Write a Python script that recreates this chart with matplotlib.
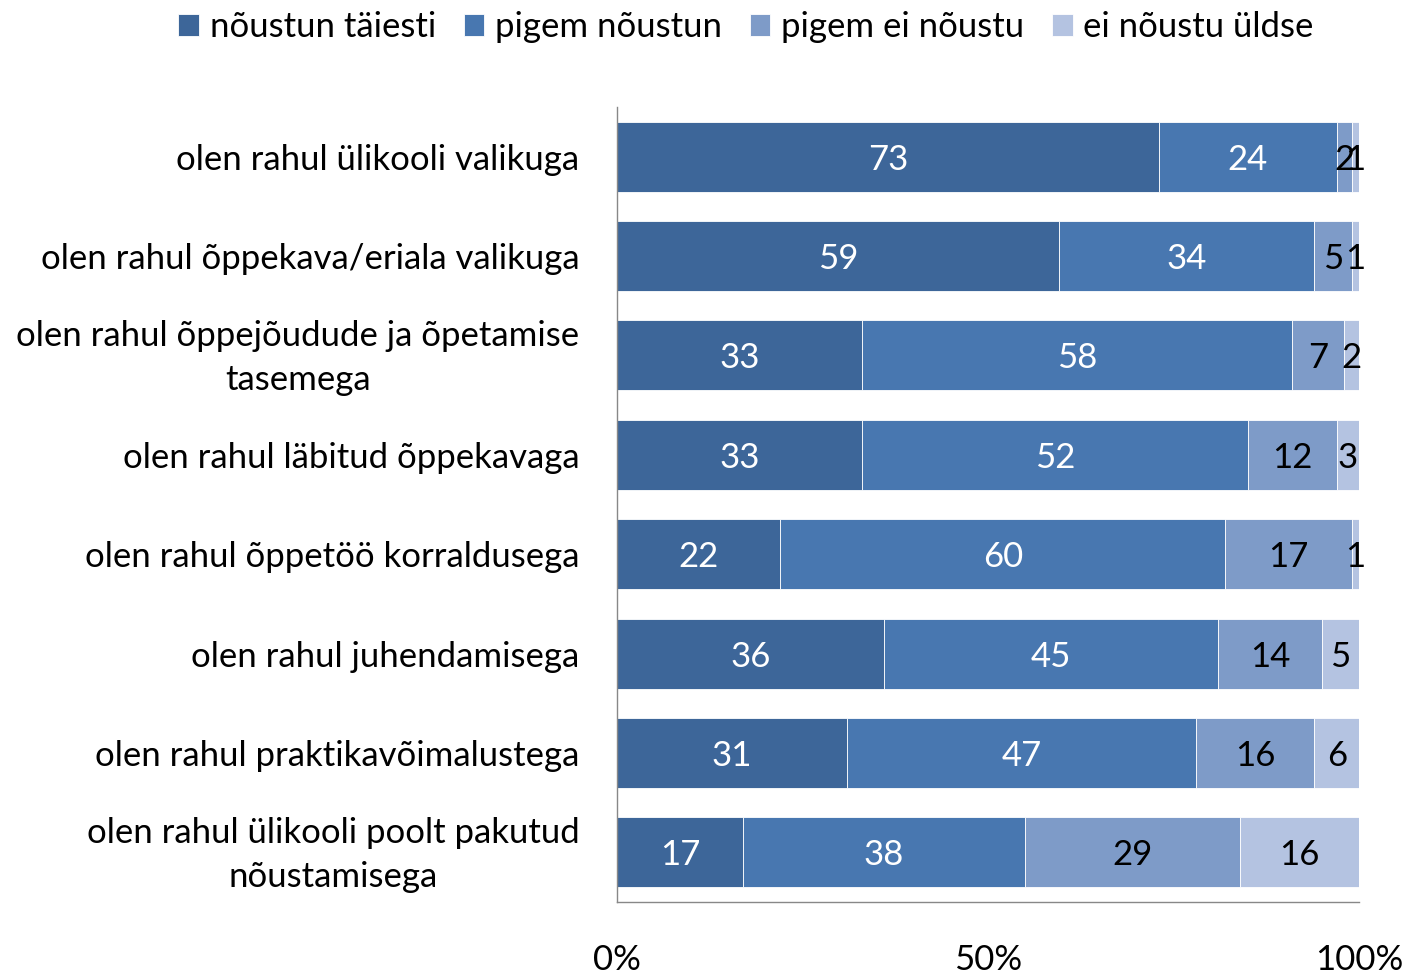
import matplotlib
matplotlib.use("Agg")
import matplotlib.pyplot as plt
import matplotlib.transforms as mtransforms
import numpy as np

categories = [
    "olen rahul ülikooli valikuga",
    "olen rahul õppekava/eriala valikuga",
    "olen rahul õppejõudude ja õpetamise\ntasemega",
    "olen rahul läbitud õppekavaga",
    "olen rahul õppetöö korraldusega",
    "olen rahul juhendamisega",
    "olen rahul praktikavõimalustega",
    "olen rahul ülikooli poolt pakutud\nnõustamisega",
]
series_names = ["nõustun täiesti", "pigem nõustun", "pigem ei nõustu", "ei nõustu üldse"]
noustun_taiesti = [73, 59, 33, 33, 22, 36, 31, 17]
pigem_noustun = [24, 34, 58, 52, 60, 45, 47, 38]
pigem_ei_noustu = [2, 5, 7, 12, 17, 14, 16, 29]
ei_noustu_uldse = [1, 1, 2, 3, 1, 5, 6, 16]
x_ticks = [0, 50, 100]
x_tick_labels = ["0%", "50%", "100%"]

colors = ["#3D6699", "#4877B0", "#7E9BC8", "#B4C3E1"]
text_colors = ["white", "white", "black", "black"]

plt.rcParams['font.family'] = ['Lato', 'DejaVu Sans']
FS = 25

data = np.array([noustun_taiesti, pigem_noustun, pigem_ei_noustu, ei_noustu_uldse], dtype=float)
totals = data.sum(axis=0)
pct = data / totals * 100

fig = plt.figure(figsize=(14.10, 9.74), dpi=100)
ax = fig.add_axes([617/1410, 1-902/974, (1359-617)/1410, (902-107)/974])

y = np.arange(len(categories))
left = np.zeros(len(categories))
handles = []
for i, name in enumerate(series_names):
    bars = ax.barh(y, pct[i], left=left, height=0.705, color=colors[i],
                   edgecolor="white", linewidth=0.6, label=name)
    handles.append(bars)
    for j in range(len(categories)):
        cx = left[j] + pct[i][j] / 2
        ax.text(cx, y[j], f"{int(data[i][j])}", ha="center", va="center_baseline",
                color=text_colors[i], fontsize=FS)
    left += pct[i]

ax.set_ylim(len(categories) - 0.5, -0.5)
ax.set_xlim(0, 100)
ax.set_yticks(y)
ax.set_yticklabels(categories, fontsize=FS, multialignment="center", linespacing=1.45)
ax.set_xticks(x_ticks)
ax.set_xticklabels(x_tick_labels, fontsize=FS)
ax.tick_params(axis="both", length=0)
ax.tick_params(axis="y", pad=27)
ax.tick_params(axis="x", pad=30)
shift = mtransforms.ScaledTranslation(0, 6/100, fig.dpi_scale_trans)
for lab in ax.get_yticklabels():
    if "\n" in lab.get_text():
        lab.set_transform(lab.get_transform() + shift)
for s in ["top", "right"]:
    ax.spines[s].set_visible(False)
for s in ["left", "bottom"]:
    ax.spines[s].set_color("#888888")
    ax.spines[s].set_linewidth(1.0)

fig.legend(handles=handles, labels=series_names, loc="upper center",
           bbox_to_anchor=(0.529, 1.021), ncol=4, frameon=False, fontsize=FS,
           handlelength=0.6, handleheight=0.6, handletextpad=0.3, columnspacing=0.8)

fig.savefig("out.png", dpi=100)
